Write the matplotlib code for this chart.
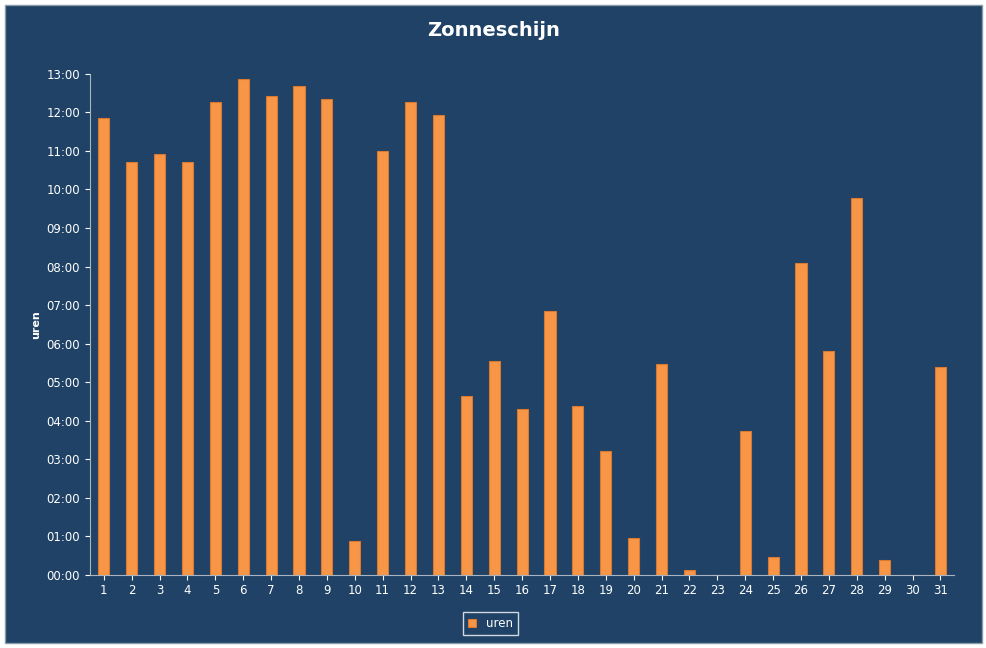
import matplotlib
matplotlib.use("Agg")
import matplotlib.pyplot as plt
from matplotlib.patches import Rectangle

days = list(range(1, 32))
uren = [11.85, 10.7, 10.92, 10.7, 12.27, 12.87, 12.43, 12.68, 12.35, 0.88,
        11.0, 12.27, 11.93, 4.63, 5.55, 4.3, 6.85, 4.37, 3.22, 0.96,
        5.47, 0.12, 0.0, 3.72, 0.47, 8.08, 5.8, 9.77, 0.38, 0.0, 5.4]
yticks = list(range(0, 14))
ylabels = [f"{h:02d}:00" for h in yticks]

bg = "#1F4266"
fig = plt.figure(figsize=(9.87, 6.48), dpi=100, facecolor="white")
fig.patches.append(Rectangle((0.005, 0.008), 0.99, 0.985, transform=fig.transFigure,
                             facecolor=bg, edgecolor="#8899AA", lw=1, zorder=-1))
ax = fig.add_axes([0.091, 0.113, 0.876, 0.773])
ax.set_facecolor(bg)
ax.bar(days, uren, width=0.4, color="#F79646", edgecolor="#D9782E", lw=0.8, label="uren")
ax.set_xlim(0.5, 31.5)
ax.set_ylim(0, 13)
ax.set_yticks(yticks)
ax.set_yticklabels(ylabels)
ax.set_xticks(days)
ax.tick_params(colors="white", labelsize=8.5)
for s in ["top", "right"]:
    ax.spines[s].set_visible(False)
ax.spines["left"].set_color("#AAB4C0")
ax.spines["bottom"].set_color("#AAB4C0")
ax.set_ylabel("uren", color="white", fontsize=8, fontweight="bold")
fig.text(0.5, 0.953, "Zonneschijn", color="white", fontsize=14, fontweight="bold", ha="center", va="center")
leg = fig.legend(loc="center", bbox_to_anchor=(0.497, 0.038), facecolor=bg, edgecolor="white",
                 fontsize=8.5, handlelength=0.7, handleheight=0.7, fancybox=False)
for t in leg.get_texts():
    t.set_color("white")
fig.savefig("out.png", dpi=100, facecolor=fig.get_facecolor())
